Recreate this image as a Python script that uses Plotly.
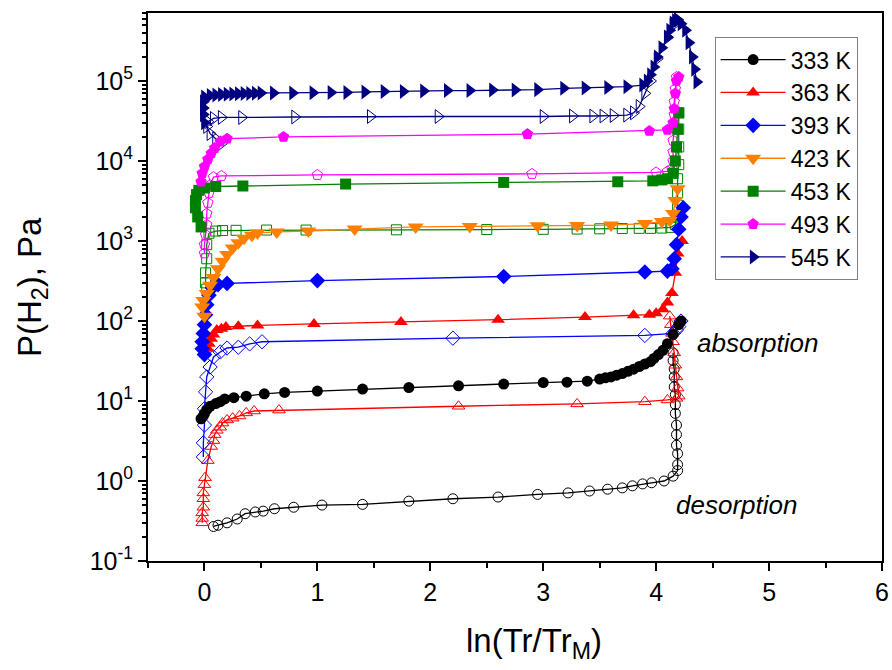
import plotly.graph_objects as go

# ---------------- data ----------------
# 333 K
abs333_x = [-0.03, -0.01, 0.0, 0.02, 0.05, 0.1, 0.14, 0.18, 0.26, 0.37, 0.53, 0.71, 1.0, 1.4, 1.81,
            2.25, 2.65, 3.0, 3.21, 3.39, 3.5, 3.55, 3.6, 3.65, 3.7, 3.75, 3.8, 3.85, 3.9, 3.95,
            3.98, 4.02, 4.06, 4.1, 4.15, 4.2, 4.22]
abs333_y = [6.0, 6.5, 7.0, 7.8, 8.6, 9.3, 9.8, 10.6, 11.0, 11.5, 12.3, 12.8, 13.3, 14.1, 14.7,
            15.5, 16.3, 17.0, 17.2, 17.7, 18.8, 19.5, 20.0, 21.0, 22.0, 23.5, 25.0, 27.0, 29.0, 31.0,
            34.0, 38.0, 43.0, 52.0, 68.0, 90.0, 100.0]
des333_x = [4.15, 4.15, 4.16, 4.16, 4.16, 4.17, 4.17, 4.17, 4.18, 4.18, 4.18, 4.19, 4.19, 4.19,
            4.15, 4.07, 3.96, 3.88, 3.79, 3.7, 3.57, 3.41, 3.22, 2.95, 2.6, 2.2, 1.81, 1.4, 1.04,
            0.79, 0.62, 0.52, 0.45, 0.36, 0.29, 0.2, 0.12, 0.08]
des333_y = [40.0, 32.0, 25.0, 20.0, 15.0, 12.0, 9.0, 7.0, 5.0, 3.8, 2.8, 2.2, 1.6, 1.35,
            1.15, 1.0, 0.95, 0.92, 0.87, 0.82, 0.79, 0.75, 0.71, 0.68, 0.63, 0.6, 0.56, 0.51, 0.5,
            0.47, 0.45, 0.42, 0.41, 0.39, 0.335, 0.30, 0.28, 0.27]

# 363 K
abs363_x = [0.03, 0.04, 0.06, 0.08, 0.11, 0.15, 0.19, 0.3, 0.47, 0.97, 1.74, 2.6, 3.37,
            3.8, 3.94, 4.0, 4.06, 4.1, 4.14, 4.17, 4.19, 4.23]
abs363_y = [45.0, 52.0, 60.0, 68.0, 77.0, 80.0, 84.0, 86.0, 88.0, 92.0, 97.0, 104.0, 112.0,
            118.0, 120.0, 125.0, 140.0, 170.0, 224.0, 400.0, 700.0, 1000.0]
des363_x = [4.12, 4.13, 4.14, 4.15, 4.16, 4.17, 4.18, 4.19, 4.2, 4.18, 4.1, 3.9, 3.3, 2.25,
            0.66, 0.44, 0.37, 0.31, 0.25, 0.2, 0.16, 0.14, 0.11, 0.09, 0.08, 0.06, 0.03,
            0.005, 0.0, -0.01, -0.01, -0.01, -0.02, -0.02, -0.02]
des363_y = [115.0, 90.0, 70.0, 55.0, 40.0, 28.0, 20.0, 14.5, 11.5, 10.8, 10.3, 9.8, 9.2, 8.6,
            7.7, 7.5, 7.1, 6.5, 6.1, 5.8, 5.3, 4.7, 4.3, 3.8, 3.2, 2.7, 1.8,
            1.1, 0.9, 0.71, 0.6, 0.47, 0.4, 0.34, 0.30]

# 393 K
abs393_x = [0.0, -0.02, -0.02, -0.01, 0.0, 0.01, 0.02, 0.04, 0.07, 0.12, 0.2, 1.0, 2.65,
            3.9, 4.1, 4.14, 4.16, 4.18, 4.2, 4.22, 4.24]
abs393_y = [38.0, 45.0, 55.0, 70.0, 90.0, 120.0, 160.0, 210.0, 260.0, 285.0, 295.0, 320.0, 360.0,
            410.0, 420.0, 450.0, 600.0, 900.0, 1400.0, 2000.0, 2600.0]
des393_x = [4.22, 4.2, 4.18, 4.15, 3.9, 2.2, 0.51, 0.4, 0.3, 0.2, 0.14, 0.08, 0.05, 0.02,
            0.01, 0.0, 0.0, -0.01, -0.01]
des393_y = [100.0, 85.0, 77.0, 70.0, 66.0, 61.0, 55.0, 51.7, 47.0, 46.0, 41.0, 35.5, 26.6, 20.0,
            13.0, 8.0, 5.0, 3.0, 2.0]

# 423 K
abs423_x = [0.0, -0.02, -0.01, 0.02, 0.05, 0.08, 0.12, 0.16, 0.2, 0.25, 0.3, 0.35, 0.42, 0.47,
            0.64, 0.92, 1.33, 1.87, 2.35, 2.95, 3.3, 3.6, 3.9, 4.05, 4.12, 4.15, 4.17, 4.19]
abs423_y = [115.0, 150.0, 180.0, 220.0, 280.0, 350.0, 450.0, 560.0, 680.0, 820.0, 950.0, 1080.0,
            1180.0, 1260.0, 1300.0, 1330.0, 1410.0, 1500.0, 1520.0, 1550.0, 1560.0, 1580.0,
            1650.0, 1750.0, 1800.0, 2200.0, 3200.0, 4500.0]

# 453 K
abs453_x = [-0.03, -0.06, -0.08, -0.08, -0.07, -0.05, 0.0, 0.1, 0.34, 1.25, 2.65, 3.66, 3.97,
            4.05, 4.1, 4.15, 4.17, 4.18, 4.19, 4.2]
abs453_y = [1500.0, 2000.0, 2600.0, 3200.0, 3800.0, 4300.0, 4600.0, 4800.0, 4870.0, 5150.0,
            5400.0, 5500.0, 5650.0, 5800.0, 6000.0, 7000.0, 10000.0, 15000.0, 25000.0, 40000.0]
des453_x = [4.2, 4.2, 4.2, 4.2, 4.19, 4.19, 4.19, 4.18, 4.17, 4.13, 4.05, 3.95, 3.85, 3.7, 3.5,
            3.3, 3.0, 2.5, 1.7, 0.9, 0.55, 0.28, 0.16, 0.1, 0.04, 0.02, 0.02, 0.01, 0.01, 0.02]
des453_y = [40000.0, 25000.0, 15000.0, 9000.0, 6000.0, 4000.0, 2800.0, 2000.0, 1600.0, 1480.0,
            1450.0, 1440.0, 1440.0, 1430.0, 1420.0, 1410.0, 1400.0, 1390.0, 1380.0, 1370.0,
            1370.0, 1360.0, 1350.0, 1330.0, 1250.0, 900.0, 600.0, 400.0, 300.0, 250.0]

# 493 K
abs493_x = [-0.03, -0.02, 0.0, 0.03, 0.06, 0.09, 0.14, 0.2, 0.7, 2.86, 3.94, 4.1, 4.15, 4.16,
            4.17, 4.18, 4.2]
abs493_y = [5500.0, 7000.0, 8500.0, 10500.0, 12500.0, 14500.0, 17500.0, 19000.0, 20000.0,
            21700.0, 23700.0, 24500.0, 30000.0, 45000.0, 70000.0, 100000.0, 112000.0]
des493_x = [4.18, 4.17, 4.16, 4.16, 4.16, 4.15, 4.15, 4.15, 4.14, 4.1, 4.0, 2.9, 1.0, 0.15,
            0.08, 0.05, 0.04, 0.03, 0.02, 0.02, 0.01, 0.0, 0.0]
des493_y = [112000.0, 80000.0, 55000.0, 38000.0, 26000.0, 18000.0, 13000.0, 10000.0, 8000.0,
            7400.0, 7200.0, 6900.0, 6700.0, 6500.0, 6300.0, 5000.0, 4000.0, 3000.0, 2200.0,
            1600.0, 1200.0, 900.0, 700.0]

# 545 K
abs545_x = [0.0, -0.01, -0.01, -0.01, 0.0, 0.05, 0.1, 0.15, 0.2, 0.25, 0.3, 0.35, 0.4, 0.45,
            0.5, 0.61, 0.78, 0.96, 1.12, 1.26, 1.42, 1.59, 1.76, 1.94, 2.15, 2.35, 2.55, 2.75,
            2.95, 3.18, 3.37, 3.57, 3.74, 3.88, 3.92, 3.95, 3.98, 4.01, 4.05, 4.1, 4.12, 4.15,
            4.17, 4.19, 4.22, 4.26, 4.29, 4.32, 4.34, 4.36]
abs545_y = [30000.0, 38000.0, 46000.0, 55000.0, 63000.0, 66000.0, 67000.0, 68000.0, 68500.0,
            69000.0, 69500.0, 70000.0, 70000.0, 70500.0, 71000.0, 71000.0, 71000.0, 71500.0,
            72000.0, 72000.0, 73000.0, 74000.0, 74000.0, 75000.0, 76000.0, 76000.0, 77000.0,
            77000.0, 78000.0, 81000.0, 82000.0, 83000.0, 85000.0, 89000.0, 100000.0, 120000.0,
            150000.0, 200000.0, 260000.0, 355000.0, 430000.0, 530000.0, 570000.0, 580000.0,
            520000.0, 430000.0, 300000.0, 200000.0, 140000.0, 97000.0]
des545_x = [4.19, 4.15, 4.1, 4.01, 3.95, 3.9, 3.85, 3.8, 3.74, 3.62, 3.53, 3.44, 3.26, 3.0,
            2.07, 1.47, 0.8, 0.33, 0.15, 0.08, 0.03, 0.02, 0.05, 0.1, 0.15]
des545_y = [580000.0, 500000.0, 350000.0, 190000.0, 100000.0, 70000.0, 48000.0, 40000.0,
            37500.0, 37000.0, 36500.0, 36500.0, 36500.0, 36000.0, 36000.0, 36000.0, 35500.0,
            35000.0, 35000.0, 34000.0, 31000.0, 27000.0, 22000.0, 19000.0, 16500.0]

names = ["333 K", "363 K", "393 K", "423 K", "453 K", "493 K", "545 K"]
colors = ["#000000", "#FF0000", "#0000FF", "#FF8000", "#008000", "#FF00FF", "#000080"]
symbols = ["circle", "triangle-up", "diamond", "triangle-down", "square", "pentagon", "triangle-right"]
msizes = [11, 12, 12, 14, 11, 12, 13]

absorption = [(abs333_x, abs333_y), (abs363_x, abs363_y), (abs393_x, abs393_y),
              (abs423_x, abs423_y), (abs453_x, abs453_y), (abs493_x, abs493_y),
              (abs545_x, abs545_y)]
desorption = [(des333_x, des333_y), (des363_x, des363_y), (des393_x, des393_y),
              None, (des453_x, des453_y), (des493_x, des493_y), (des545_x, des545_y)]

FONT = "Liberation Sans, Arial, Helvetica, sans-serif"

fig = go.Figure()

# desorption (open symbols) first
for i, d in enumerate(desorption):
    if d is None:
        continue
    fig.add_trace(go.Scatter(
        x=d[0], y=d[1], mode="lines+markers", name=names[i] + " des",
        showlegend=False,
        line=dict(color=colors[i], width=1.3),
        marker=dict(symbol=symbols[i] + "-open", size=msizes[i] - 1, color=colors[i],
                    line=dict(width=1, color=colors[i])),
    ))

for i, d in enumerate(absorption):
    fig.add_trace(go.Scatter(
        x=d[0], y=d[1], mode="lines+markers", name=names[i],
        line=dict(color=colors[i], width=1.3),
        marker=dict(symbol=symbols[i], size=msizes[i], color=colors[i], line=dict(width=0)),
    ))

ytv = [0.1, 1, 10, 100, 1000, 10000, 100000]
ytt = ["10<sup>-1</sup>", "10<sup>0</sup>", "10<sup>1</sup>", "10<sup>2</sup>",
       "10<sup>3</sup>", "10<sup>4</sup>", "10<sup>5</sup>"]
minor_y = [m * 10 ** e for e in range(-1, 6) for m in range(2, 10)]

fig.update_layout(
    width=892, height=670,
    margin=dict(l=148, r=10, t=13, b=109),
    paper_bgcolor="white", plot_bgcolor="white",
    font=dict(family=FONT, color="black"),
    showlegend=True,
    legend=dict(
        x=0.772, y=0.956, xanchor="left", yanchor="top",
        bgcolor="white", bordercolor="#808080", borderwidth=1,
        font=dict(size=23, family=FONT), itemwidth=65,
        traceorder="normal",
    ),
    xaxis=dict(
        range=[-0.5, 6], tickmode="array", tickvals=[0, 1, 2, 3, 4, 5, 6],
        ticks="outside", ticklen=8, tickwidth=2, tickcolor="black",
        showline=True, linecolor="black", linewidth=2, mirror=True,
        showgrid=False, zeroline=False, automargin=False,
        tickfont=dict(size=25, family=FONT),
        minor=dict(ticks="outside", ticklen=5, tickwidth=1.5, tickcolor="black",
                   tickvals=[-0.5, 0.5, 1.5, 2.5, 3.5, 4.5, 5.5], showgrid=False),
    ),
    yaxis=dict(
        type="log", range=[-1, 5.85], tickmode="array", tickvals=ytv, ticktext=ytt,
        ticks="outside", ticklen=8, tickwidth=2, tickcolor="black",
        showline=True, linecolor="black", linewidth=2, mirror=True,
        showgrid=False, zeroline=False, automargin=False,
        tickfont=dict(size=25, family=FONT),
        minor=dict(ticks="outside", ticklen=4, tickwidth=1.5, tickcolor="black",
                   tickvals=minor_y, showgrid=False),
    ),
    annotations=[
        dict(text="<i>absorption</i>", x=0.831, y=0.398, xref="paper", yref="paper",
             showarrow=False, font=dict(size=26, family=FONT),
             xanchor="center", yanchor="middle"),
        dict(text="<i>desorption</i>", x=0.802, y=0.102, xref="paper", yref="paper",
             showarrow=False, font=dict(size=26, family=FONT),
             xanchor="center", yanchor="middle"),
        dict(text="ln(Tr/Tr<sub>M</sub>)", x=0.5259, y=-0.15, xref="paper", yref="paper",
             showarrow=False, font=dict(size=33, family=FONT),
             xanchor="center", yanchor="middle"),
        dict(text="P(H<sub>2</sub>), Pa", x=-0.158, y=0.5, xref="paper", yref="paper",
             showarrow=False, font=dict(size=33, family=FONT), textangle=-90,
             xanchor="center", yanchor="middle"),
    ],
)

fig.write_html("out.html")
